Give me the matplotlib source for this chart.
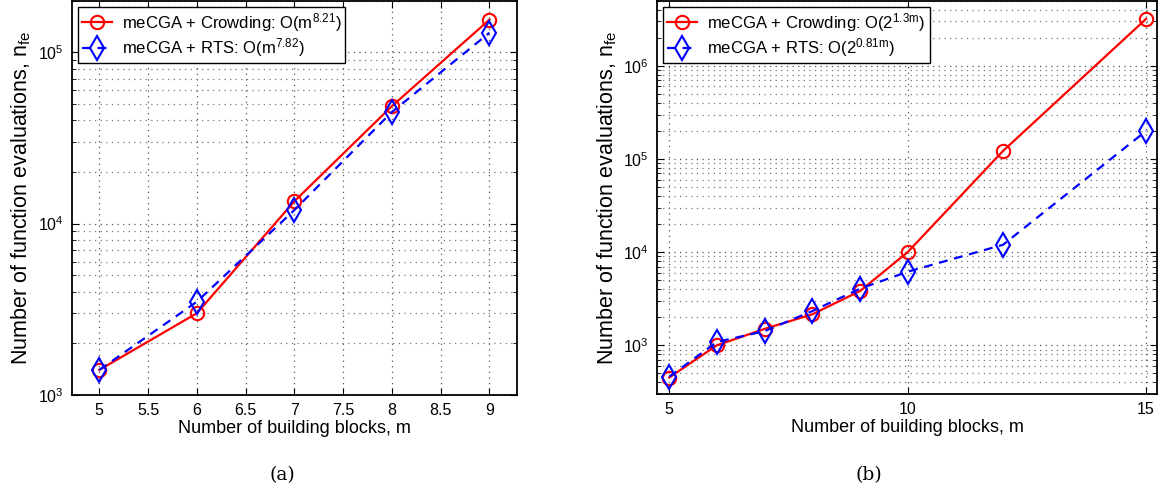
import matplotlib.pyplot as plt
import numpy as np

plt.switch_backend('agg')
plt.rcParams['font.family'] = ['Liberation Sans', 'DejaVu Sans']
plt.rcParams['mathtext.fontset'] = 'custom'
plt.rcParams['mathtext.rm'] = 'Liberation Sans'
plt.rcParams['mathtext.it'] = 'Liberation Sans'

# (a) polynomial scaling
m_a = [5, 6, 7, 8, 9]
crowd_a = [1400, 3000, 13500, 48500, 155000]
rts_a = [1400, 3500, 12000, 44800, 130000]

# (b) exponential scaling
m_b = [5, 6, 7, 8, 9, 10, 12, 15]
crowd_b = [451, 1000, 1500, 2150, 3820, 10000, 122000, 3190000]
rts_b = [460, 1085, 1420, 2330, 4050, 6160, 12000, 200000]

labels_a = [r'meCGA + Crowding: O(m$^{8.21}$)', r'meCGA + RTS: O(m$^{7.82}$)']
labels_b = [r'meCGA + Crowding: O(2$^{1.3\mathrm{m}}$)', r'meCGA + RTS: O(2$^{0.81\mathrm{m}}$)']


def style_axes(ax):
    ax.tick_params(which='both', direction='in', top=True, right=True, labelsize=11.5)
    ax.tick_params(which='major', length=5, pad=6)
    ax.tick_params(which='minor', length=3)
    ax.grid(True, which='major', color='#555555', linewidth=0.9, dashes=(1, 3.5))
    ax.grid(True, which='minor', axis='y', color='#777777', linewidth=0.9, dashes=(1, 3.5))
    for s in ax.spines.values():
        s.set_linewidth(1.3)
    ax.set_xlabel('Number of building blocks, m', fontsize=13, labelpad=1)
    ax.set_ylabel(r'Number of function evaluations, n$_{\mathrm{fe}}$', fontsize=15.5, labelpad=3)


def draw(ax, m, crowd, rts, labels):
    ax.semilogy(m, crowd, '-', color='red', lw=1.6, marker='o', ms=9.6,
                mfc='none', mec='red', mew=1.5, label=labels[0])
    ax.semilogy(m, rts, '--', color='blue', lw=1.6, marker='d', ms=12,
                mfc='none', mec='blue', mew=1.5, label=labels[1], dashes=(4, 3))
    leg = ax.legend(loc='upper left', fontsize=12, fancybox=False, framealpha=1,
                    edgecolor='black', borderaxespad=0.35, handlelength=1.8,
                    handletextpad=0.6, borderpad=0.25, labelspacing=0.15)
    leg.get_frame().set_linewidth(1.0)


fig = plt.figure(figsize=(11.58, 4.88), dpi=100)
ax1 = fig.add_axes([0.0619, 0.1906, 0.3846, 0.808])
ax2 = fig.add_axes([0.5676, 0.1926, 0.4312, 0.806])

draw(ax1, m_a, crowd_a, rts_a, labels_a)
ax1.set_xlim(4.717, 9.283)
ax1.set_ylim(1e3, 2e5)
ax1.set_xticks(np.arange(5, 9.01, 0.5))
ax1.set_xticklabels(['5', '5.5', '6', '6.5', '7', '7.5', '8', '8.5', '9'])
style_axes(ax1)

draw(ax2, m_b, crowd_b, rts_b, labels_b)
ax2.set_xlim(4.75, 15.22)
ax2.set_ylim(300, 5e6)
ax2.set_xticks([5, 10, 15])
style_axes(ax2)

fig.text(0.244, 0.027, '(a)', fontsize=13.5, family='DejaVu Serif', ha='center', va='center')
fig.text(0.750, 0.027, '(b)', fontsize=13.5, family='DejaVu Serif', ha='center', va='center')

fig.savefig('out.png', dpi=100)
plt.close('all')
